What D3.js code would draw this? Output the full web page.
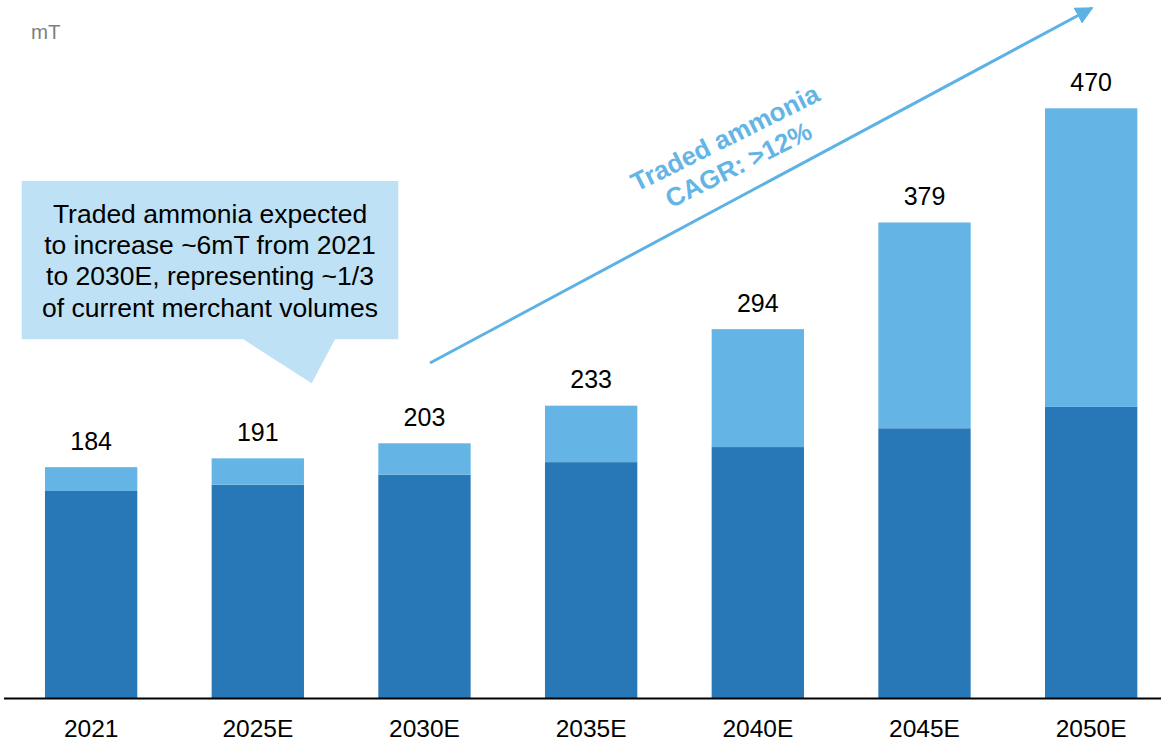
<!DOCTYPE html>
<html>
<head>
<meta charset="utf-8">
<script src="https://cdn.jsdelivr.net/npm/d3@7"></script>
<style>
  html, body { margin: 0; padding: 0; background: #fff; }
  svg { display: block; font-family: Arial, "Liberation Sans", sans-serif; }
</style>
</head>
<body>
<svg id="chart" width="1161" height="743"></svg>
<script>
// Ammonia volumes by year (mT): domestic/captive base plus traded volume
const years = ["2021", "2025E", "2030E", "2035E", "2040E", "2045E", "2050E"];
const baseVolume = [165, 170, 178, 188, 200, 215, 232];
const tradedVolume = [19, 21, 25, 45, 94, 164, 238];
const unitLabel = "mT";
const calloutLines = [
  "Traded ammonia expected",
  "to increase ~6mT from 2021",
  "to 2030E, representing ~1/3",
  "of current merchant volumes"
];
const trendLines = ["Traded ammonia", "CAGR: >12%"];

const W = 1161, H = 743;
const baseY = 698;
const svg = d3.select("#chart");

const rows = years.map((y, i) => ({ year: y, base: baseVolume[i], traded: tradedVolume[i] }));
const totals = rows.map(r => r.base + r.traded);

const x = d3.scaleBand()
  .domain(years)
  .range([7.8, 1174.5])
  .paddingInner(0.446)
  .paddingOuter(0.223);

const y = d3.scaleLinear()
  .domain([0, 470])
  .range([baseY, 108.3]);

const stack = d3.stack().keys(["base", "traded"]);
const series = stack(rows);
const colors = { base: "#2878B8", traded: "#64B5E5" };

// stacked bars
svg.append("g")
  .selectAll("g")
  .data(series)
  .join("g")
  .attr("fill", d => colors[d.key])
  .selectAll("rect")
  .data(d => d)
  .join("rect")
  .attr("x", d => x(d.data.year))
  .attr("width", x.bandwidth())
  .attr("y", d => y(d[1]))
  .attr("height", d => y(d[0]) - y(d[1]));

// total labels above bars
svg.append("g")
  .selectAll("text")
  .data(rows)
  .join("text")
  .attr("x", d => x(d.year) + x.bandwidth() / 2)
  .attr("y", (d, i) => y(totals[i]) - 17.5)
  .attr("text-anchor", "middle")
  .attr("font-size", 25)
  .attr("fill", "#000")
  .text((d, i) => totals[i]);

// x axis
const xAxis = svg.append("g")
  .attr("transform", `translate(0,${baseY})`)
  .call(d3.axisBottom(x).tickSize(0).tickPadding(22));
xAxis.select(".domain").remove();
xAxis.selectAll("text")
  .attr("font-size", 24.5)
  .attr("font-family", "Arial, 'Liberation Sans', sans-serif")
  .attr("fill", "#000");

svg.append("line")
  .attr("x1", 4).attr("x2", W)
  .attr("y1", baseY + 0.5).attr("y2", baseY + 0.5)
  .attr("stroke", "#000")
  .attr("stroke-width", 2);

// unit label
svg.append("text")
  .attr("x", 31).attr("y", 39)
  .attr("font-size", 20.5)
  .attr("fill", "#7f7f7f")
  .text(unitLabel);

// callout box with pointer
const callout = d3.path();
callout.moveTo(21.7, 181);
callout.lineTo(398.3, 181);
callout.lineTo(398.3, 339.3);
callout.lineTo(335, 339.3);
callout.lineTo(311.7, 383.3);
callout.lineTo(243.3, 339.3);
callout.lineTo(21.7, 339.3);
callout.closePath();
svg.append("path")
  .attr("d", callout.toString())
  .attr("fill", "#BFE1F5");

svg.append("g")
  .selectAll("text")
  .data(calloutLines)
  .join("text")
  .attr("x", 210)
  .attr("y", (d, i) => 223 + i * 31.2)
  .attr("text-anchor", "middle")
  .attr("font-size", 26.5)
  .attr("fill", "#000")
  .text(d => d);

// growth arrow
const arrowColor = "#5DB2E5";
svg.append("defs").append("marker")
  .attr("id", "arrowhead")
  .attr("viewBox", "0 0 10 10")
  .attr("refX", 9).attr("refY", 5)
  .attr("markerWidth", 6).attr("markerHeight", 6)
  .attr("markerUnits", "strokeWidth")
  .attr("orient", "auto")
  .append("path")
  .attr("d", "M0,0 L10,5 L0,10 Z")
  .attr("fill", arrowColor);

svg.append("line")
  .attr("x1", 430).attr("y1", 363)
  .attr("x2", 1092).attr("y2", 8)
  .attr("stroke", arrowColor)
  .attr("stroke-width", 3)
  .attr("marker-end", "url(#arrowhead)");

// rotated trend label
const trend = svg.append("g")
  .attr("transform", "translate(729,146) rotate(-26.5)");
trend.selectAll("text")
  .data(trendLines)
  .join("text")
  .attr("x", 0)
  .attr("y", (d, i) => i * 30)
  .attr("text-anchor", "middle")
  .attr("font-size", 26)
  .attr("font-weight", "bold")
  .attr("fill", "#64B5E5")
  .text(d => d);
</script>
</body>
</html>
